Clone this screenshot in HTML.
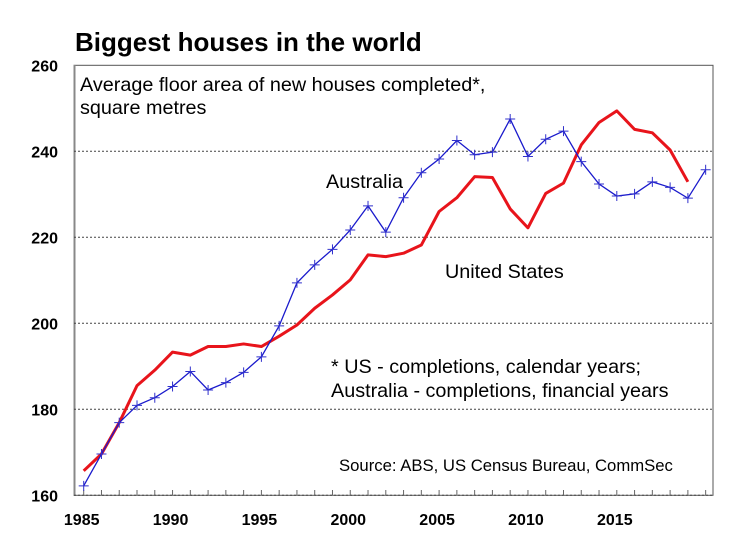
<!DOCTYPE html>
<html><head><meta charset="utf-8"><style>
body{margin:0;background:#fff;font-family:"Liberation Sans",sans-serif}
svg text{font-family:"Liberation Sans",sans-serif}
</style></head><body>
<svg width="735" height="546" id="c">
<text x="75" y="51" font-size="26" font-weight="bold">Biggest houses in the world</text>
<rect x="74" y="65.3" width="639" height="430" fill="none" stroke="#555" stroke-width="1"/>
<line x1="74.5" y1="65" x2="74.5" y2="496" stroke="#888" stroke-width="2"/>
<g id="grid"></g><g id="ticks"></g>
<text x="80" y="91" font-size="19.8">Average floor area of new houses completed*,</text>
<text x="80" y="114" font-size="19.8">square metres</text>
<text x="326" y="188" font-size="19.8">Australia</text>
<text x="445" y="278" font-size="19.8">United States</text>
<text x="331" y="373" font-size="19.8">* US - completions, calendar years;</text>
<text x="331" y="397" font-size="19.8">Australia - completions, financial years</text>
<text x="339" y="471" font-size="16.7">Source: ABS, US Census Bureau, CommSec</text>
<g id="series"></g>
</svg>
<script>
const years=[1985,1986,1987,1988,1989,1990,1991,1992,1993,1994,1995,1996,1997,1998,1999,2000,2001,2002,2003,2004,2005,2006,2007,2008,2009,2010,2011,2012,2013,2014,2015,2016,2017,2018,2019,2020];
const australia=[162.2,169.6,176.9,180.9,182.7,185.3,188.8,184.5,186.2,188.6,192.2,199.4,209.4,213.6,217.2,221.7,227.3,221.2,229.2,235.0,238.2,242.5,239.2,239.8,247.5,238.8,242.8,244.7,237.6,232.4,229.6,230.1,232.9,231.6,229.1,235.7];
const us=[165.7,169.6,176.9,185.5,189.1,193.3,192.6,194.6,194.6,195.2,194.6,197.0,199.6,203.5,206.6,210.1,215.9,215.5,216.3,218.2,226.0,229.2,234.1,233.9,226.6,222.2,230.2,232.6,241.5,246.7,249.4,245.1,244.3,240.3,232.9];
const yTicks=[160,180,200,220,240,260];
const xLabels=[1985,1990,1995,2000,2005,2010,2015];
const NS='http://www.w3.org/2000/svg';
const X=y=>83.7+(y-1985)*17.77;
const Y=v=>495.3-(v-160)*4.3;
function mk(t,a,p){const e=document.createElementNS(NS,t);for(const k in a)e.setAttribute(k,a[k]);p.appendChild(e);return e;}
const grid=document.getElementById('grid'),ticks=document.getElementById('ticks'),ser=document.getElementById('series');
yTicks.forEach(v=>{
  if(v>160&&v<260){const l=mk('line',{x1:74,x2:713,y1:Y(v),y2:Y(v),stroke:'#444','stroke-dasharray':'2,2','stroke-width':1},grid);
  
  }
  const t=mk('text',{x:58,y:Y(v)+6,'font-size':16,'font-weight':'bold','text-anchor':'end'},ticks);t.textContent=v;
  
  
});
mk('line',{x1:74,x2:713,y1:495.3,y2:495.3,stroke:'#444','stroke-dasharray':'2,2'},grid);
years.forEach(y=>{const l=mk('line',{x1:X(y),x2:X(y),y1:495.3,y2:490,stroke:'#666'},ticks);
  
  });
xLabels.forEach(y=>{const t=mk('text',{x:X(y)-2,y:525,'font-size':16,'font-weight':'bold','text-anchor':'middle'},ticks);t.textContent=y;
  
  });
const up=mk('polyline',{points:us.map((v,i)=>X(years[i])+','+Y(v)).join(' '),fill:'none',stroke:'#e8141b','stroke-width':3,'stroke-linejoin':'round'},ser);


const ap=mk('polyline',{points:australia.map((v,i)=>X(years[i])+','+Y(v)).join(' '),fill:'none',stroke:'#1a1acc','stroke-width':1.3},ser);


australia.forEach((v,i)=>{const x=X(years[i]),y=Y(v);
  const g=mk('path',{d:`M${x-5},${y}H${x+5}M${x},${y-5}V${y+5}`,stroke:'#3030cc','stroke-width':1},ser);
  
  });
</script>
</body></html>
